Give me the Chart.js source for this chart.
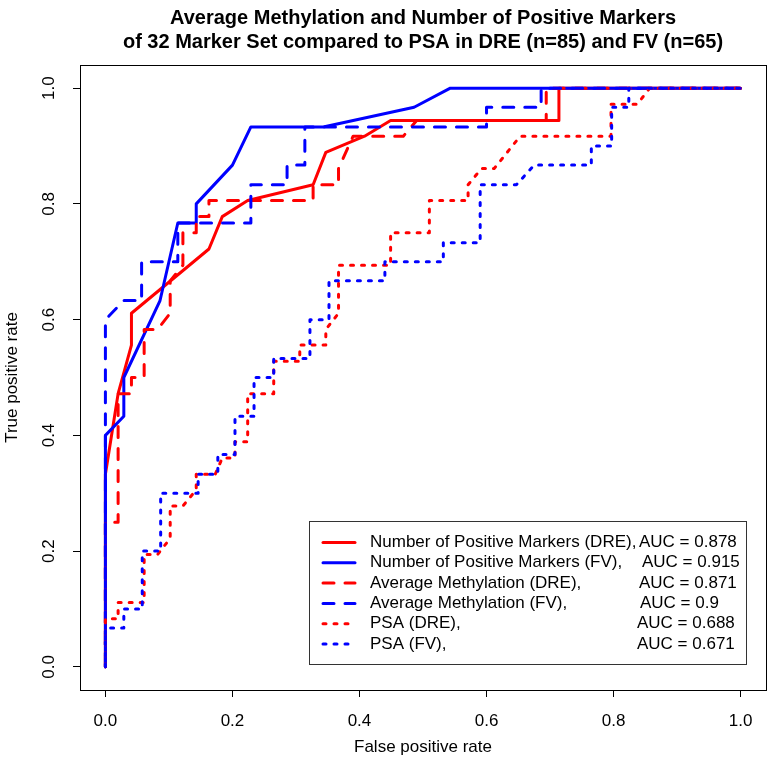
<!DOCTYPE html>
<html>
<head>
<meta charset="utf-8">
<script src="https://cdn.jsdelivr.net/npm/chart.js@4.4.1/dist/chart.umd.min.js"></script>
<style>
  html, body { margin: 0; padding: 0; background: #fff; }
  canvas { display: block; }
</style>
</head>
<body>
<canvas id="roc" width="771" height="762"></canvas>
<script>
// ROC curves: marker set vs PSA, DRE and FV cohorts

// axis ticks
const xTicks = [0, 0.2, 0.4, 0.6, 0.8, 1.0];
const yTicks = [0, 0.2, 0.4, 0.6, 0.8, 1.0];

const titleLines = [
  'Average Methylation and Number of Positive Markers',
  'of 32 Marker Set compared to PSA in DRE (n=85) and FV (n=65)'
];

// legend texts
const seriesNames = [
  'Number of Positive Markers (DRE),',
  'Number of Positive Markers (FV),',
  'Average Methylation (DRE),',
  'Average Methylation (FV),',
  'PSA (DRE),',
  'PSA (FV),'
];
const seriesAuc = ['AUC = 0.878', 'AUC = 0.915', 'AUC = 0.871', 'AUC = 0.9', 'AUC = 0.688', 'AUC = 0.671'];

// Number of Positive Markers (DRE)
const npmDreFpr = [0, 0, 0.020, 0.041, 0.041, 0.163, 0.184, 0.224, 0.327, 0.347, 0.408, 0.449, 0.714, 0.714, 1];
const npmDreTpr = [0, 0.333, 0.472, 0.556, 0.611, 0.722, 0.778, 0.806, 0.833, 0.889, 0.917, 0.944, 0.944, 1, 1];

// Number of Positive Markers (FV)
const npmFvFpr = [0, 0, 0.029, 0.029, 0.086, 0.114, 0.143, 0.143, 0.2, 0.229, 0.343, 0.486, 0.543, 1];
const npmFvTpr = [0, 0.4, 0.433, 0.5, 0.633, 0.767, 0.767, 0.8, 0.867, 0.933, 0.933, 0.967, 1, 1];

// Average Methylation (DRE)
const methDreFpr = [0, 0, 0.020, 0.020, 0.041, 0.041, 0.061, 0.061, 0.082, 0.102, 0.102, 0.122, 0.122, 0.143,
  0.143, 0.163, 0.163, 0.327, 0.327, 0.367, 0.367, 0.39, 0.469, 0.49, 0.694, 0.694, 1];
const methDreTpr = [0, 0.25, 0.25, 0.472, 0.472, 0.5, 0.5, 0.583, 0.583, 0.611, 0.667, 0.694, 0.75, 0.75,
  0.778, 0.778, 0.806, 0.806, 0.833, 0.833, 0.861, 0.917, 0.917, 0.944, 0.944, 1, 1];

// Average Methylation (FV)
const methFvFpr = [0, 0, 0.029, 0.057, 0.057, 0.114, 0.114, 0.229, 0.229, 0.286, 0.286, 0.314, 0.314, 0.6, 0.6, 0.686, 0.686, 1];
const methFvTpr = [0, 0.6, 0.633, 0.633, 0.7, 0.7, 0.767, 0.767, 0.833, 0.833, 0.867, 0.867, 0.933, 0.933, 0.967, 0.967, 1, 1];

// PSA (DRE)
const psaDreFpr = [0, 0, 0.020, 0.020, 0.061, 0.061, 0.082, 0.102, 0.102, 0.122, 0.143, 0.143, 0.173, 0.184,
  0.204, 0.204, 0.224, 0.224, 0.265, 0.265, 0.306, 0.306, 0.347, 0.347, 0.367, 0.367, 0.449, 0.449,
  0.510, 0.510, 0.571, 0.571, 0.592, 0.612, 0.653, 0.796, 0.796, 0.837, 0.857, 1];
const psaDreTpr = [0, 0.083, 0.083, 0.111, 0.111, 0.194, 0.194, 0.222, 0.278, 0.278, 0.306, 0.333, 0.333, 0.361,
  0.361, 0.389, 0.389, 0.472, 0.472, 0.528, 0.528, 0.556, 0.556, 0.583, 0.611, 0.694, 0.694, 0.75,
  0.75, 0.806, 0.806, 0.833, 0.861, 0.861, 0.917, 0.917, 0.972, 0.972, 1, 1];

// PSA (FV)
const psaFvFpr = [0, 0, 0.029, 0.029, 0.058, 0.058, 0.087, 0.087, 0.146, 0.146, 0.177, 0.177, 0.204, 0.204,
  0.234, 0.234, 0.265, 0.265, 0.322, 0.322, 0.352, 0.352, 0.44, 0.44, 0.532, 0.532, 0.59, 0.59,
  0.647, 0.675, 0.765, 0.765, 0.797, 0.797, 0.824, 0.824, 1];
const psaFvTpr = [0, 0.067, 0.067, 0.1, 0.1, 0.2, 0.2, 0.3, 0.3, 0.333, 0.333, 0.367, 0.367, 0.433,
  0.433, 0.5, 0.5, 0.533, 0.533, 0.6, 0.6, 0.667, 0.667, 0.7, 0.7, 0.733, 0.733, 0.833,
  0.833, 0.867, 0.867, 0.9, 0.9, 0.967, 0.967, 1, 1];

// styles
const RED = '#ff0000';
const BLUE = '#0000ff';
const FONT = '"Liberation Sans", Arial, Helvetica, sans-serif';
const seriesColors = [RED, BLUE, RED, BLUE, RED, BLUE];
const seriesDash = [[], [], [11, 11], [11, 11], [3, 8], [3, 8]];

function toPoints(fpr, tpr) {
  return fpr.map(function (x, i) { return { x: x, y: tpr[i] }; });
}

const curves = [
  toPoints(npmDreFpr, npmDreTpr),
  toPoints(npmFvFpr, npmFvTpr),
  toPoints(methDreFpr, methDreTpr),
  toPoints(methFvFpr, methFvTpr),
  toPoints(psaDreFpr, psaDreTpr),
  toPoints(psaFvFpr, psaFvTpr)
];

const datasets = curves.map(function (pts, i) {
  return {
    label: seriesNames[i],
    data: pts,
    borderColor: seriesColors[i],
    borderWidth: 3,
    borderDash: seriesDash[i],
    borderCapStyle: 'round',
    borderJoinStyle: 'round',
    pointRadius: 0,
    fill: false,
    tension: 0,
    order: curves.length - 1 - i // later curves on top, like R
  };
});

// title, plot box and the legend (R style)
const decorPlugin = {
  id: 'decor',
  afterDatasetsDraw(chart) {
    const ctx = chart.ctx;
    const a = chart.chartArea;
    ctx.save();

    // box round the plot
    ctx.strokeStyle = '#000';
    ctx.lineWidth = 1;
    ctx.setLineDash([]);
    ctx.strokeRect(Math.round(a.left) + 0.5, Math.round(a.top) + 0.5,
      Math.round(a.right - a.left), Math.round(a.bottom - a.top));

    // title
    ctx.fillStyle = '#000';
    ctx.font = 'bold 20px ' + FONT;
    ctx.textAlign = 'center';
    ctx.textBaseline = 'alphabetic';
    const cx = (a.left + a.right) / 2;
    ctx.fillText(titleLines[0], cx, 24);
    ctx.fillText(titleLines[1], cx, 48);

    // legend
    const box = { left: 309.5, top: 521.5, right: 746.5, bottom: 664.5 };
    ctx.fillStyle = '#fff';
    ctx.fillRect(box.left, box.top, box.right - box.left, box.bottom - box.top);
    ctx.strokeStyle = '#333';
    ctx.lineWidth = 1;
    ctx.strokeRect(box.left, box.top, box.right - box.left, box.bottom - box.top);

    const aucX = [639, 642, 639, 640, 637, 637];
    ctx.font = '17px ' + FONT;
    ctx.textBaseline = 'middle';
    for (let i = 0; i < seriesNames.length; i++) {
      const y = 542.5 + i * 20.3;
      ctx.strokeStyle = seriesColors[i];
      ctx.lineWidth = 3;
      ctx.lineCap = 'round';
      ctx.setLineDash(seriesDash[i]);
      ctx.beginPath();
      ctx.moveTo(323, y);
      ctx.lineTo(355, y);
      ctx.stroke();
      ctx.setLineDash([]);
      ctx.fillStyle = '#000';
      ctx.textAlign = 'left';
      ctx.fillText(seriesNames[i], 370, y);
      ctx.fillText(seriesAuc[i], aucX[i], y);
    }
    ctx.restore();
  }
};

const tickFont = { family: FONT, size: 17 };

new Chart(document.getElementById('roc'), {
  type: 'line',
  data: { datasets: datasets },
  options: {
    responsive: false,
    animation: false,
    devicePixelRatio: 1,
    layout: { padding: { top: 65, right: 5, left: 0, bottom: 0 } },
    plugins: {
      legend: { display: false },
      tooltip: { enabled: false },
      title: { display: false }
    },
    scales: {
      x: {
        type: 'linear',
        min: -0.04,
        max: 1.04,
        afterBuildTicks: function (s) { s.ticks = xTicks.map(function (v) { return { value: v }; }); },
        afterFit: function (s) { s.height = 72; },
        grid: { drawOnChartArea: false, drawTicks: true, tickLength: 7, color: '#000', lineWidth: 1 },
        border: { display: true, color: '#000' },
        ticks: {
          color: '#000', font: tickFont, padding: 14, maxRotation: 0, autoSkip: false,
          callback: function (v) { return Number(v).toFixed(1); }
        },
        title: {
          display: true, text: 'False positive rate', color: '#000', font: tickFont,
          padding: { top: 0, bottom: 4 }
        }
      },
      y: {
        type: 'linear',
        min: -0.04,
        max: 1.04,
        afterBuildTicks: function (s) { s.ticks = yTicks.map(function (v) { return { value: v }; }); },
        afterFit: function (s) { s.width = 80; },
        grid: { drawOnChartArea: false, drawTicks: true, tickLength: 7, color: '#000', lineWidth: 1 },
        border: { display: true, color: '#000' },
        ticks: {
          color: '#000', font: tickFont, padding: 12, minRotation: 90, maxRotation: 90,
          crossAlign: 'center', autoSkip: false,
          callback: function (v) { return Number(v).toFixed(1); }
        },
        title: {
          display: true, text: 'True positive rate', color: '#000', font: tickFont,
          padding: { top: 2, bottom: 0 }
        }
      }
    }
  },
  plugins: [decorPlugin]
});
</script>
</body>
</html>
